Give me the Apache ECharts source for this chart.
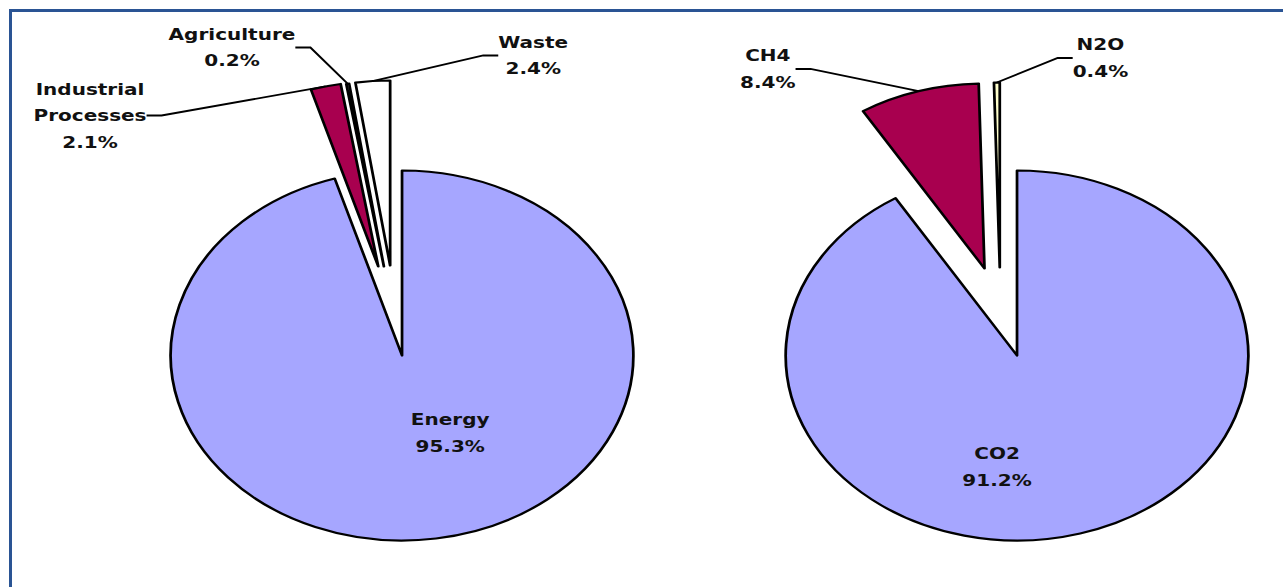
<!DOCTYPE html>
<html>
<head>
<meta charset="utf-8">
<script src="https://cdn.jsdelivr.net/npm/echarts@6/dist/echarts.min.js"></script>
<style>
  html, body { margin: 0; padding: 0; background: #ffffff; }
  #page { position: relative; width: 1283px; height: 587px; overflow: hidden; background: #fff; }
  #chart { position: absolute; left: 0; top: 0; width: 1026px; height: 587px; transform-origin: 0 0; }
  .edgeTop { position: absolute; left: 9px; top: 9px; width: 1274px; height: 3px; background: #2A5494; }
  .edgeLeft { position: absolute; left: 9px; top: 9px; width: 3px; height: 578px; background: #2A5494; }
</style>
</head>
<body>
<div id="page">
  <div id="chart"></div>
  <div class="edgeTop"></div>
  <div class="edgeLeft"></div>
</div>
<script>
// ---- data ----
const leftNames = ['Energy', 'Industrial Processes', 'Agriculture', 'Waste'];
const leftValues = [95.3, 2.1, 0.2, 2.4];
const rightNames = ['CO2', 'CH4', 'N2O'];
const rightValues = [91.2, 8.4, 0.4];

// ---- styling / layout ----
const leftColors = ['#A6A6FF', '#A8004F', '#D8D8D8', '#FFFFFF'];
const rightColors = ['#A6A6FF', '#A8004F', '#FFFFCC'];
const STRETCH = 1283 / 1026;      // the original picture is stretched horizontally
const R = 185;
const leftCenter = [321.5, 355.5];
const rightCenter = [813.3, 355.5];
const leftOffsets = [[0, 0], [-19, -89], [-14.5, -89], [-9.5, -90]];
const rightOffsets = [[0, 0], [-26, -87], [-13.8, -88]];
const leftLabelPos = [[360, 433], [72, 115.5], [185.5, 47.5], [426.4, 55.5]];
const rightLabelPos = [[797.3, 467], [614, 69], [880, 58]];
const leftInside = [true, false, false, false];
const rightInside = [true, false, false];

document.getElementById('chart').style.transform = 'scaleX(' + STRETCH + ')';

function buildPie(names, values, colors, center, offsets, labelPos, inside) {
  return names.map(function (nm, i) {
    return {
      type: 'pie',
      radius: R,
      center: [center[0] + offsets[i][0], center[1] + offsets[i][1]],
      startAngle: 90,
      clockwise: true,
      avoidLabelOverlap: false,
      silent: true,
      animation: false,
      emphasis: { disabled: true },
      data: names.map(function (n, j) {
        return {
          name: n,
          value: values[j],
          itemStyle: j === i
            ? { color: colors[j], borderColor: '#000', borderWidth: 2.2 }
            : { color: 'rgba(0,0,0,0)', borderWidth: 0 },
          label: { show: j === i },
          labelLine: { show: j === i && !inside[i] }
        };
      }),
      label: {
        position: inside[i] ? 'inside' : 'outside',
        formatter: function (p) { return p.name.replace(' ', '\n') + '\n' + p.value + '%'; },
        fontFamily: 'DejaVu Sans',
        fontWeight: 'bold',
        fontSize: 16,
        lineHeight: 26.5,
        color: '#111111',
        align: 'center'
      },
      labelLine: { length: 12, length2: 12, lineStyle: { color: '#000', width: 1.8 } },
      labelLayout: { x: labelPos[i][0], y: labelPos[i][1], align: 'center', verticalAlign: 'middle' }
    };
  });
}

const chart = echarts.init(document.getElementById('chart'), null, { renderer: 'svg' });
chart.setOption({
  backgroundColor: 'rgba(0,0,0,0)',
  animation: false,
  series: buildPie(leftNames, leftValues, leftColors, leftCenter, leftOffsets, leftLabelPos, leftInside)
    .concat(buildPie(rightNames, rightValues, rightColors, rightCenter, rightOffsets, rightLabelPos, rightInside))
});
</script>
</body>
</html>
